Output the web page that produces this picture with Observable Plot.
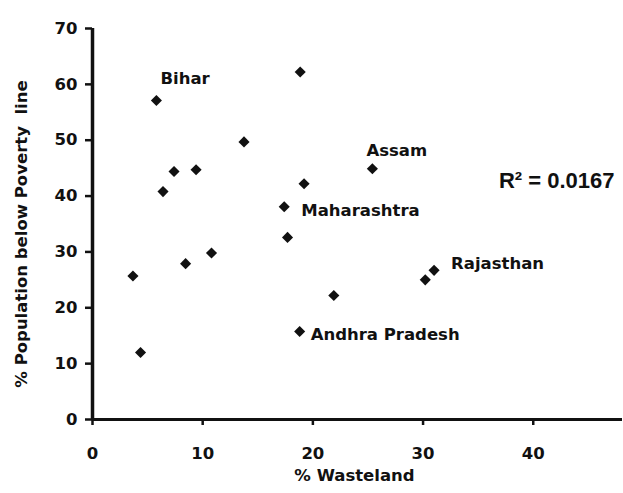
<!DOCTYPE html>
<html>
<head>
<meta charset="utf-8">
<script src="https://cdn.jsdelivr.net/npm/d3@7"></script>
<script src="https://cdn.jsdelivr.net/npm/@observablehq/plot@0.6"></script>
<style>
  html, body { margin: 0; padding: 0; background: #fff; }
</style>
</head>
<body>
<div id="chart"></div>
<script>
// ---- data ----
const wasteland = [5.8, 6.4, 7.4, 9.4, 13.75, 18.85, 19.2, 17.4, 17.7, 3.67, 8.45, 10.8, 4.36, 18.8, 21.9, 30.2, 31.0, 25.4];
const poverty   = [57.1, 40.8, 44.4, 44.7, 49.7, 62.2, 42.2, 38.1, 32.6, 25.7, 27.9, 29.8, 12.0, 15.75, 22.2, 25.0, 26.7, 44.9];
const stateName = ["Bihar", "", "", "", "", "", "", "Maharashtra", "", "", "", "", "", "Andhra Pradesh", "", "", "Rajasthan", "Assam"];
const xTicks = [0, 10, 20, 30, 40];
const yTicks = [0, 10, 20, 30, 40, 50, 60, 70];
const xTitle = "% Wasteland";
const yTitle = "% Population below Poverty  line";
const rSquared = "R\u00B2 = 0.0167";

const rows = wasteland.map((w, i) => ({w, p: poverty[i], name: stateName[i]}));

const font = "'DejaVu Sans', sans-serif";
function label(name, dx, dy) {
  return Plot.text(rows.filter(d => d.name === name), {
    x: "w", y: "p", text: "name", textAnchor: "start", dx, dy,
    fontFamily: font, fontWeight: "bold", fontSize: 16.5, fill: "#111"
  });
}

const chart = Plot.plot({
  width: 623,
  height: 493,
  marginLeft: 92,
  marginRight: 1,
  marginTop: 28,
  marginBottom: 74,
  style: {fontFamily: font, fontWeight: "bold", fontSize: "16.5px", color: "#111", background: "#fff", overflow: "visible"},
  x: {domain: [0, 48.1]},
  y: {domain: [0, 70]},
  marks: [
    Plot.axisX({ticks: xTicks, tickSize: 6, tickPadding: 22, strokeWidth: 2.5, label: null, tickFormat: d => d, fontSize: 16.5}),
    Plot.axisY({ticks: yTicks, tickSize: 7, tickPadding: 8, strokeWidth: 2.5, label: null, tickFormat: d => d, fontSize: 16.5}),
    Plot.ruleY([0], {stroke: "#111", strokeWidth: 3}),
    Plot.ruleX([0], {stroke: "#111", strokeWidth: 3.5}),
    Plot.dot(rows, {x: "w", y: "p", symbol: "diamond2", r: 5, fill: "#111", stroke: "none"}),
    label("Bihar", 4, -22),
    label("Assam", -6, -18),
    label("Maharashtra", 17, 4),
    label("Rajasthan", 17, -7),
    label("Andhra Pradesh", 11, 3),
    Plot.text([rSquared], {frameAnchor: "top-right", text: d => d, textAnchor: "end", dx: -8, dy: 144,
      fontFamily: "'Liberation Sans', Arial, sans-serif", fontWeight: "bold", fontSize: 22, fill: "#111"}),
    Plot.text([xTitle], {frameAnchor: "bottom", text: d => d, dx: -3, dy: 61, fontSize: 16.5, fill: "#111"}),
    Plot.text([yTitle], {frameAnchor: "left", text: d => d, textAnchor: "middle", rotate: -90, dx: -71, dy: 10, fontSize: 16.5, fill: "#111"})
  ]
});
document.getElementById("chart").appendChild(chart);
</script>
</body>
</html>
